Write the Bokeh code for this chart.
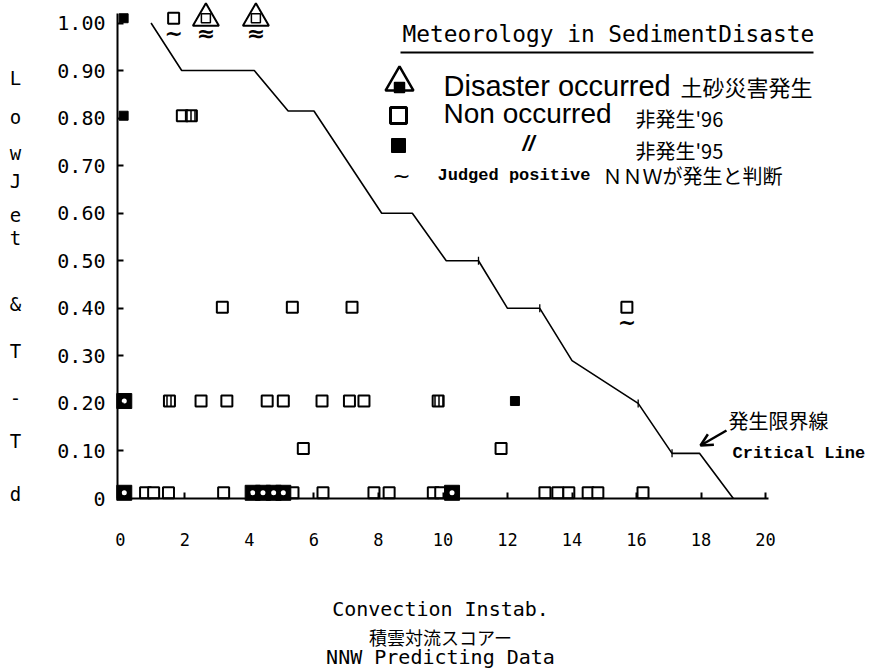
from bokeh.plotting import figure
from bokeh.models import Label, Arrow, OpenHead, FixedTicker, Range1d
from bokeh.embed import file_html
from bokeh.resources import INLINE
from bokeh.core.properties import value

# ---------------- data ----------------
x_ticks = [0, 2, 4, 6, 8, 10, 12, 14, 16, 18, 20]
x_tick_labels = ["0", "2", "4", "6", "8", "10", "12", "14", "16", "18", "20"]
y_ticks = [0.0, 0.1, 0.2, 0.3, 0.4, 0.5, 0.6, 0.7, 0.8, 0.9, 1.0]
y_tick_labels = ["0", "0.10", "0.20", "0.30", "0.40", "0.50", "0.60", "0.70", "0.80", "0.90", "1.00"]

# critical line (発生限界線)
crit_x = [0.95, 1.9, 4.15, 5.2, 6.0, 8.1, 9.05, 10.1, 11.1, 12.0, 13.0, 14.0, 16.05, 17.1, 17.95, 19.0]
crit_y = [1.00, 0.90, 0.90, 0.815, 0.815, 0.60, 0.60, 0.50, 0.50, 0.40, 0.40, 0.29, 0.20, 0.095, 0.095, 0.0]
crit_tick_x = [11.1, 13.0, 16.05, 17.1]
crit_tick_y = [0.50, 0.40, 0.20, 0.095]

# Non occurred '96 (open squares)
non96_x = [0.78, 1.03, 1.49, 3.2, 5.35, 6.28, 7.86, 8.33, 9.7, 9.93, 13.16, 13.56, 13.9, 14.5, 14.8, 16.2,
           5.67, 11.8,
           2.5, 3.3, 4.55, 5.05, 6.25, 7.1, 7.55,
           3.16, 5.33, 7.18, 15.7,
           1.92, 1.65]
non96_y = [0.012, 0.012, 0.012, 0.012, 0.012, 0.012, 0.012, 0.012, 0.012, 0.012, 0.012, 0.012, 0.012, 0.012, 0.012, 0.012,
           0.105, 0.105,
           0.205, 0.205, 0.205, 0.205, 0.205, 0.205, 0.205,
           0.402, 0.402, 0.402, 0.402,
           0.805, 1.01]

# Non occurred '95 (filled squares)
non95_big_x = [0.12, 0.12, 4.1, 4.42, 4.75, 5.05, 10.28]
non95_big_y = [0.205, 0.012, 0.012, 0.012, 0.012, 0.012, 0.012]
non95_small_x = [0.1, 0.1, 12.23]
non95_small_y = [1.01, 0.805, 0.205]
non95_hatch_x = [1.52, 2.2, 9.85]
non95_hatch_y = [0.205, 0.805, 0.205]

# Disaster occurred (triangles)
dis_x = [2.65, 4.2]
dis_y = [1.01, 1.01]

# Judged positive by NNW
judged_x = [1.65, 2.65, 4.2, 15.7]
judged_y = [1.01, 1.01, 1.01, 0.402]
judged_kind = ["non", "dis", "dis", "non"]

# ---------------- layout helpers ----------------
W, H = 884, 670
X0, XE = -0.09, 20.09          # axis extent (data)
YE = 1.02
FL, FB = 117, 498              # pixel position of axis corner
SX = (768 - 117) / (XE - X0)   # px per x unit
SY = 475.5                     # px per y unit


def px(x):
    return X0 + (x - FL) / SX


def py(y):
    return (FB - y) / SY


p = figure(width=W, height=H, output_backend="svg", toolbar_location=None,
           x_range=Range1d(px(0), px(W)), y_range=Range1d(py(H), py(0)),
           min_border_left=0, min_border_right=0, min_border_top=0, min_border_bottom=0)
p.outline_line_color = None
p.grid.visible = False
p.background_fill_color = "white"
p.border_fill_color = "white"

# axes (fixed at the data corner so the whole canvas is the frame)
p.xaxis.fixed_location = 0
p.yaxis.fixed_location = X0
p.xaxis.bounds = (X0, XE)
p.yaxis.bounds = (0, YE)
p.xaxis.ticker = FixedTicker(ticks=x_ticks)
p.xaxis.major_label_overrides = {t: l for t, l in zip(x_ticks, x_tick_labels)}
p.yaxis.ticker = FixedTicker(ticks=y_ticks)
p.yaxis.major_label_overrides = {t: l for t, l in zip(y_ticks, y_tick_labels)}
for ax in (p.xaxis, p.yaxis):
    ax.axis_line_width = 2
    ax.axis_line_color = "black"
    ax.major_tick_out = 0
    ax.major_tick_in = 6
    ax.major_tick_line_width = 2
    ax.minor_tick_line_color = None
    ax.major_label_text_color = "black"
    ax.major_label_text_font = "DejaVu Sans Mono"
p.xaxis.major_label_text_font_size = "17px"
p.xaxis.major_label_standoff = 34
p.yaxis.major_label_text_font_size = "20px"
p.yaxis.major_label_standoff = 12

# critical line
p.line(crit_x, crit_y, line_color="black", line_width=1.6)
p.scatter(crit_tick_x, crit_tick_y, marker="dash", angle=1.5708, size=8,
          line_color="black", line_width=1.3)

# squares
p.scatter(non96_x, non96_y, marker="square", size=11, fill_color="white",
          line_color="black", line_width=2)
p.scatter(non95_hatch_x, non95_hatch_y, marker="square", size=11, fill_color="white",
          line_color="black", line_width=2, hatch_pattern="vertical_line",
          hatch_color="black", hatch_scale=4, hatch_weight=1.5)
p.scatter(non95_small_x, non95_small_y, marker="square", size=9, fill_color="black",
          line_color="black", line_width=1)
p.scatter(non95_big_x, non95_big_y, marker="square", size=15, fill_color="black",
          line_color="black", line_width=1)
p.scatter(non95_big_x, non95_big_y, marker="circle", size=5, fill_color="white",
          line_color=None)

# disaster triangles
p.scatter(dis_x, dis_y, marker="triangle", size=26, fill_color="white",
          line_color="black", line_width=2)
p.scatter(dis_x, dis_y, marker="square", size=9, fill_color="white",
          line_color="black", line_width=1.5)

# judged positive tildes
tilde_text = ["≈" if k == "dis" else "~" for k in judged_kind]
p.text(judged_x, judged_y, text=tilde_text, text_font=value("DejaVu Sans"),
       text_font_size="22px", text_font_style="bold", text_align="center",
       text_baseline="middle", y_offset=15, text_color="black")


def lab(x, y, text, font, size, align="left", style="normal"):
    p.add_layout(Label(x=px(x), y=py(y), text=text, text_font=font,
                       text_font_size=size, text_align=align, text_baseline="middle",
                       text_font_style=style, text_color="black"))


# title + underline
lab(402, 33, "Meteorology in SedimentDisaste", "DejaVu Sans Mono", "22.8px")
p.add_layout(Arrow(end=None, x_start=px(400), y_start=py(52), x_end=px(813), y_end=py(52),
                   line_width=2, line_color="black"))

# legend icons
p.scatter([px(399)], [py(82)], marker="triangle", size=28, fill_color="white",
          line_color="black", line_width=2.5)
p.scatter([px(399)], [py(87)], marker="square", size=10, fill_color="black",
          line_color="black", line_width=1.5)
p.scatter([px(398)], [py(115)], marker="square", size=16, fill_color="white",
          line_color="black", line_width=3)
p.scatter([px(398)], [py(145)], marker="square", size=14, fill_color="black",
          line_color="black", line_width=1, hatch_pattern="crosshatch",
          hatch_color="white", hatch_scale=4, hatch_weight=1)

# legend texts
lab(401, 175, "~", "DejaVu Sans", "22px", align="center")
lab(443, 85, "Disaster occurred", "Liberation Sans", "29px")
lab(680, 85, "土砂災害発生", "Noto Sans CJK JP", "22px")
lab(443, 113, "Non occurred", "Liberation Sans", "28px")
lab(635, 118, "非発生'96", "Noto Sans CJK JP", "20px")
lab(522, 143, "//", "Liberation Sans", "22px", style="bold italic")
lab(635, 150, "非発生'95", "Noto Sans CJK JP", "20px")
lab(437, 175, "Judged positive", "Liberation Mono", "17px", style="bold")
lab(602, 175, "ＮＮＷが発生と判断", "Noto Sans CJK JP", "20px")

# critical line annotation
lab(728, 420, "発生限界線", "Noto Sans CJK JP", "20px")
lab(732, 453, "Critical Line", "Liberation Mono", "17px", style="bold")
p.add_layout(Arrow(end=OpenHead(size=12, line_width=2.5, line_color="black"),
                   x_start=px(726), y_start=py(430), x_end=px(700), y_end=py(445),
                   line_width=2.5, line_color="black"))

# vertical y-axis title letters
for ch, yy in [("L", 77), ("o", 116), ("w", 152), ("J", 180), ("e", 214), ("t", 237),
               ("&", 303), ("T", 350), ("-", 397), ("T", 440), ("d", 493)]:
    lab(15, yy, ch, "DejaVu Sans Mono", "19px", align="center")

# x-axis titles
lab(440, 608, "Convection Instab.", "DejaVu Sans Mono", "20px", align="center")
lab(440, 636, "積雲対流スコアー", "Noto Sans CJK JP", "18px", align="center")
lab(440, 656, "NNW Predicting Data", "DejaVu Sans Mono", "20px", align="center")

open("out.html", "w").write(file_html(p, INLINE))
